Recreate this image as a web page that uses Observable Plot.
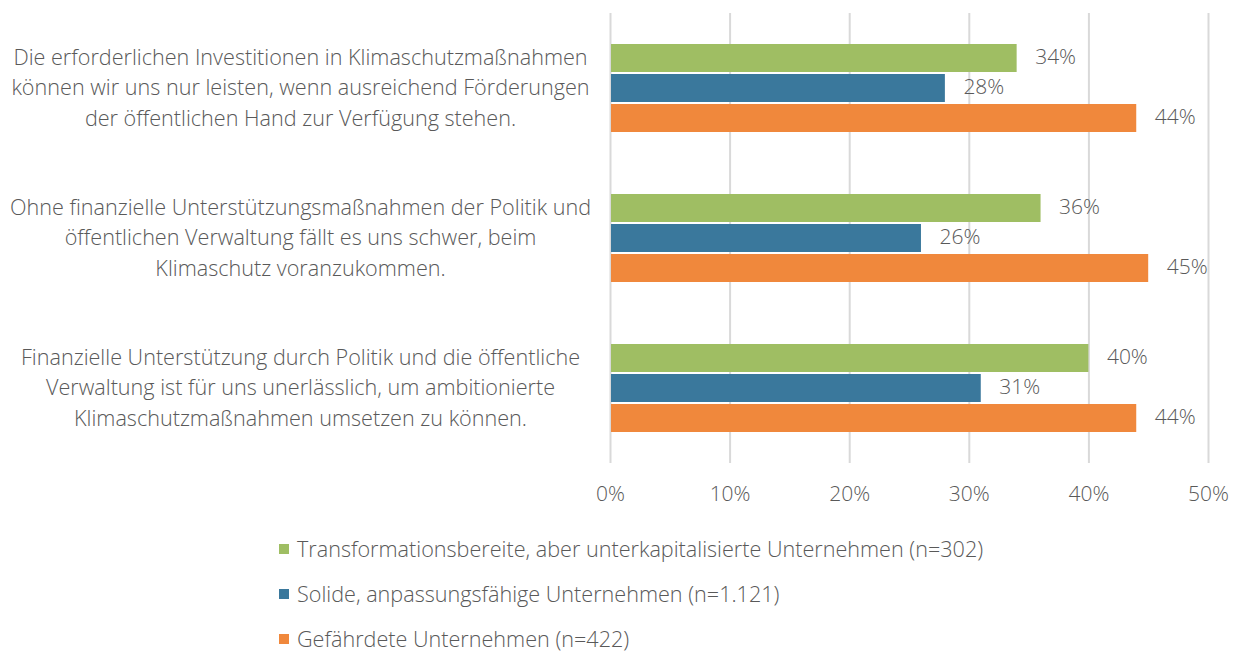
<!DOCTYPE html>
<html>
<head>
<meta charset="utf-8">
<script src="https://cdn.jsdelivr.net/npm/d3@7"></script>
<script src="https://cdn.jsdelivr.net/npm/@observablehq/plot@0.6"></script>
<style>
  html, body { margin: 0; padding: 0; background: #fff; }
  body { width: 1239px; height: 651px; overflow: hidden; font-family: "Open Sans", sans-serif; font-weight: 300; color: #595959; }
  #legend { padding-top: 6px; }
  .item { height: 45px; line-height: 45px; font-size: 21.6px; padding-left: 279px; display: flex; align-items: center; }
  .sw { width: 10px; height: 10px; margin-right: 8px; flex: none; }
  svg text { font-weight: 300; }
</style>
</head>
<body>
<div id="chart"></div>
<div id="legend"></div>
<script>
const questions = [
  "Die erforderlichen Investitionen in Klimaschutzmaßnahmen\nkönnen wir uns nur leisten, wenn ausreichend Förderungen\nder öffentlichen Hand zur Verfügung stehen.",
  "Ohne finanzielle Unterstützungsmaßnahmen der Politik und\nöffentlichen Verwaltung fällt es uns schwer, beim\nKlimaschutz voranzukommen.",
  "Finanzielle Unterstützung durch Politik und die öffentliche\nVerwaltung ist für uns unerlässlich, um ambitionierte\nKlimaschutzmaßnahmen umsetzen zu können."
];
const seriesNames = [
  "Transformationsbereite, aber unterkapitalisierte Unternehmen (n=302)",
  "Solide, anpassungsfähige Unternehmen (n=1.121)",
  "Gefährdete Unternehmen (n=422)"
];
const seriesColors = ["#9fbe63", "#3a789c", "#f0883c"];
const transformationsbereite = [34, 36, 40];
const solide = [28, 26, 31];
const gefaehrdete = [44, 45, 44];
const xTicks = [0, 10, 20, 30, 40, 50];

const seriesValues = [transformationsbereite, solide, gefaehrdete];
const data = [];
questions.forEach((q, i) => {
  seriesNames.forEach((s, j) => {
    data.push({question: q, series: s, value: seriesValues[j][i]});
  });
});

const chart = Plot.plot({
  width: 1239,
  height: 520,
  marginLeft: 610,
  marginRight: 31,
  marginTop: 13,
  marginBottom: 57,
  style: {fontFamily: "Open Sans, sans-serif", fontSize: "21px", color: "#595959", background: "#fff"},
  fy: {domain: questions, padding: 0, axis: null},
  y: {domain: seriesNames, paddingInner: 0.065, paddingOuter: 0.97, axis: null},
  x: {domain: [0, 50], ticks: xTicks, tickFormat: d => d + "%", tickSize: 0, tickPadding: 23, label: null},
  color: {domain: seriesNames, range: seriesColors},
  marks: [
    Plot.gridX(xTicks, {stroke: "#d9d9d9", strokeOpacity: 1, strokeWidth: 2}),
    Plot.barX(data, {fy: "question", y: "series", x: "value", fill: "series", inset: 0, insetLeft: 1}),
    Plot.text(data, {fy: "question", y: "series", x: "value", text: d => d.value + "%", textAnchor: "start", dx: 18, dy: -1, fill: "#595959", fontSize: 21}),
    Plot.text(questions, {fy: d => d, text: d => d, frameAnchor: "left", dx: -310, dy: -3, textAnchor: "middle", lineAnchor: "middle", lineHeight: 1.41, fill: "#595959", fontSize: 21.6})
  ]
});
document.getElementById("chart").appendChild(chart);

const legend = document.getElementById("legend");
seriesNames.forEach((s, i) => {
  const item = document.createElement("div");
  item.className = "item";
  const sw = document.createElement("span");
  sw.className = "sw";
  sw.style.background = seriesColors[i];
  const t = document.createElement("span");
  t.textContent = s;
  item.appendChild(sw);
  item.appendChild(t);
  legend.appendChild(item);
});
</script>
</body>
</html>
